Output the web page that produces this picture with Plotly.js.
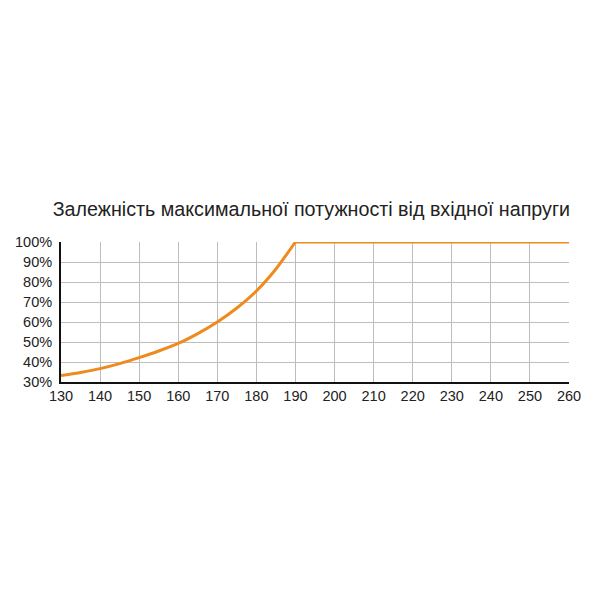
<!DOCTYPE html>
<html>
<head>
<meta charset="utf-8">
<script src="https://cdn.plot.ly/plotly-3.0.1.min.js"></script>
<style>
  html, body { margin: 0; padding: 0; background: #ffffff; }
  #chart { width: 600px; height: 600px; }
</style>
</head>
<body>
<div id="chart"></div>
<script>
  // rising part: input voltage, V and maximum power, %
  var riseVoltage = [130, 135, 140, 145, 150, 155, 160, 165, 170, 175, 180, 185, 190];
  var risePower = [33.2, 34.8, 36.7, 39.2, 42.2, 45.5, 49.3, 54.2, 60, 67, 75.5, 86.5, 100];
  // flat part
  var flatVoltage = [190, 260];
  var flatPower = [100, 100];

  var xTicks = [130, 140, 150, 160, 170, 180, 190, 200, 210, 220, 230, 240, 250, 260];
  var yTicks = [30, 40, 50, 60, 70, 80, 90, 100];
  var yTickText = yTicks.map(function (v) { return v + "%"; });

  var LINE_COLOR = "#ee8a1e";

  var traces = [
    {
      type: "scatter",
      mode: "lines",
      x: riseVoltage,
      y: risePower,
      line: { color: LINE_COLOR, width: 3, shape: "spline", smoothing: 0.5 },
      cliponaxis: false,
      hoverinfo: "skip"
    },
    {
      type: "scatter",
      mode: "lines",
      x: flatVoltage,
      y: flatPower,
      line: { color: LINE_COLOR, width: 3 },
      cliponaxis: false,
      hoverinfo: "skip"
    }
  ];

  var axisFont = { family: "Liberation Sans, Arial, sans-serif", size: 14.5, color: "#222222" };

  var layout = {
    width: 600,
    height: 600,
    paper_bgcolor: "#ffffff",
    plot_bgcolor: "#ffffff",
    showlegend: false,
    margin: { l: 61, r: 31, t: 242, b: 218, pad: 0 },
    title: {
      text: "Залежність максимальної потужності від вхідної напруги",
      font: { family: "Liberation Sans, Arial, sans-serif", size: 19.7, color: "#222222" },
      x: 0.519,
      xanchor: "center",
      y: 1 - 209 / 600,
      yanchor: "middle"
    },
    xaxis: {
      range: [130, 260],
      tickvals: xTicks,
      ticktext: xTicks.map(String),
      tickfont: axisFont,
      showgrid: true,
      gridcolor: "#bdbdbd",
      gridwidth: 1,
      zeroline: false,
      showline: true,
      linecolor: "#111111",
      linewidth: 2,
      ticks: "",
      ticklabelstandoff: 0,
      fixedrange: true
    },
    yaxis: {
      range: [30, 100],
      tickvals: yTicks,
      ticktext: yTickText,
      tickfont: axisFont,
      showgrid: true,
      gridcolor: "#bdbdbd",
      gridwidth: 1,
      zeroline: false,
      showline: true,
      linecolor: "#111111",
      linewidth: 2,
      ticks: "",
      ticklabelstandoff: 4,
      fixedrange: true
    }
  };

  Plotly.newPlot("chart", traces, layout, { displayModeBar: false, staticPlot: true });
</script>
</body>
</html>
